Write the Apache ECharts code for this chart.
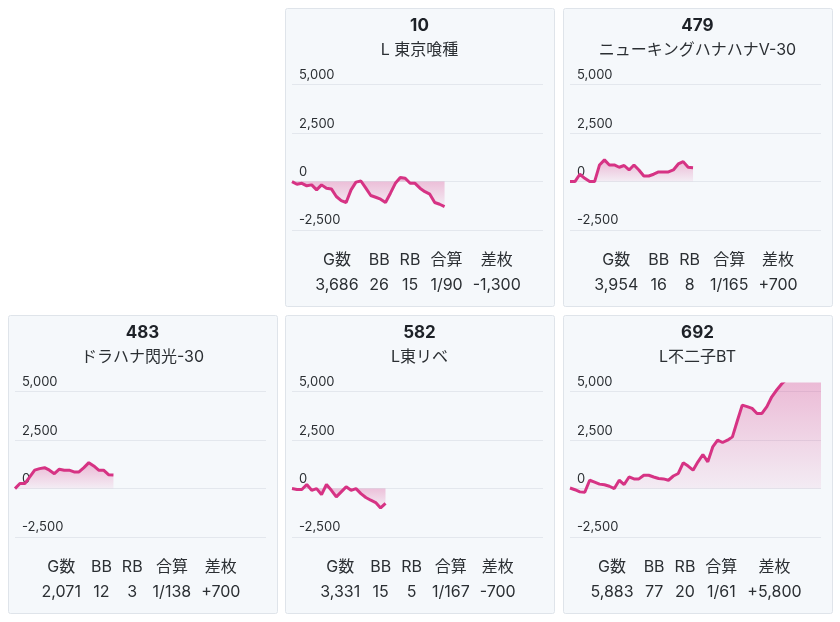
<!DOCTYPE html>
<html>
<head>
<meta charset="utf-8">
<script src="https://cdn.jsdelivr.net/npm/echarts@6/dist/echarts.min.js"></script>
<style>
html,body{margin:0;padding:0;background:#ffffff;}
#c{width:840px;height:622px;}
</style>
</head>
<body>
<div id="c"></div>
<script>
// ---------- data ----------
const machineNos = ['10', '479', '483', '582', '692'];
const machineNames = ['L 東京喰種', 'ニューキングハナハナV-30', 'ドラハナ閃光-30', 'L東リベ', 'L不二子BT'];
const statHeaders = ['G数', 'BB', 'RB', '合算', '差枚'];
const gameCounts = [3686, 3954, 2071, 3331, 5883];
const bbCounts = [26, 16, 12, 15, 77];
const rbCounts = [15, 8, 3, 5, 20];
const combinedRates = ['1/90', '1/165', '1/138', '1/167', '1/61'];
const coinDiffs = [-1300, 700, 700, -700, 5800];

const trend10 = [0, -140, -90, -220, -170, -430, -170, -340, -380, -770, -980, -1080, -430, -30, 30, -340,
  -720, -810, -910, -1080, -600, -90, 210, 170, -90, -90, -340, -520, -650, -1080, -1170, -1290];
const trend479 = [0, 0, 380, 170, 0, 0, 860, 1120, 860, 860, 740, 830, 600, 860, 600, 290,
  290, 380, 500, 500, 500, 600, 910, 1030, 740, 720];
const trend483 = [0, 260, 260, 600, 950, 1030, 1080, 950, 770, 1000, 950, 950, 860, 860, 1080, 1340,
  1170, 950, 950, 720, 700];
const trend582 = [0, -50, -50, 210, -90, 0, -310, 210, -90, -430, -170, 90, -90, 0, -260, -460,
  -600, -720, -1000, -760];
const trend692 = [30, -60, -170, -190, 430, 330, 230, 200, 120, 0, 430, 210, 600, 500, 500, 690,
  690, 600, 520, 500, 430, 650, 780, 1330, 1160, 950, 1380, 1760, 1380, 2150, 2500, 2380,
  2500, 2670, 3500, 4310, 4230, 4140, 3880, 3880, 4230, 4740, 5090, 5400, 5650, 5700, 5900, 5800,
  5750, 5900, 5850, 5800];
const trends = [trend10, trend479, trend483, trend582, trend692];

const sampleSlots = Array.from({ length: 52 }, (_, i) => String(i));
const yMin = -2500;
const yMax = 5400;
const yStep = 2500;

// ---------- layout / style ----------
const FONT = "Inter, 'Noto Sans CJK JP', sans-serif";
const LINE_COLOR = '#d63384';
const colX = [8, 285, 563];
const rowY = [8, 315];
const CARD_W = 269, CARD_H = 298;
const slots = [[1, 0], [2, 0], [0, 1], [1, 1], [2, 1]];

const measureCtx = document.createElement('canvas').getContext('2d');
function textWidth(t, font) { measureCtx.font = font; return measureCtx.measureText(t).width; }
const fmt = n => n.toLocaleString('en-US');
const fmtDiff = n => (n > 0 ? '+' : '') + n.toLocaleString('en-US');

const grids = [], xAxes = [], yAxes = [], series = [], graphics = [];

machineNos.forEach((no, i) => {
  const cx = colX[slots[i][0]], cy = rowY[slots[i][1]];
  graphics.push({
    type: 'rect', z: -10, silent: true,
    shape: { x: cx + 0.5, y: cy + 0.5, width: CARD_W, height: CARD_H, r: 2 },
    style: { fill: '#f5f8fb', stroke: '#dfe4ea', lineWidth: 1 }
  });
  graphics.push({
    type: 'text', x: cx + CARD_W / 2, y: cy + 18, silent: true,
    style: { text: no, fill: '#1d2127', font: 'bold 17px ' + FONT, align: 'center', verticalAlign: 'middle' }
  });
  graphics.push({
    type: 'text', x: cx + CARD_W / 2, y: cy + 42.5, silent: true,
    style: { text: machineNames[i], fill: '#2b2f33', font: '16px ' + FONT, align: 'center', verticalAlign: 'middle' }
  });

  // stats table
  const vals = [fmt(gameCounts[i]), String(bbCounts[i]), String(rbCounts[i]), combinedRates[i], fmtDiff(coinDiffs[i])];
  const f = '16px ' + FONT;
  const pad = 5;
  const widths = statHeaders.map((h, k) => Math.max(textWidth(h, f), textWidth(vals[k], f)) + 2 * pad);
  const total = widths.reduce((a, b) => a + b, 0);
  let x0 = cx + CARD_W / 2 - total / 2 - 1.5;
  statHeaders.forEach((h, k) => {
    const mid = x0 + widths[k] / 2;
    graphics.push({
      type: 'text', x: mid, y: cy + 252, silent: true,
      style: { text: h, fill: '#2b2f33', font: f, align: 'center', verticalAlign: 'middle' }
    });
    graphics.push({
      type: 'text', x: mid, y: cy + 277, silent: true,
      style: { text: vals[k], fill: '#2b2f33', font: f, align: 'center', verticalAlign: 'middle' }
    });
    x0 += widths[k];
  });

  grids.push({ left: cx + 7, top: cy + 69, width: 251, height: 153, containLabel: false });
  xAxes.push({
    gridIndex: i, type: 'category', data: sampleSlots, boundaryGap: false, show: false
  });
  yAxes.push({
    gridIndex: i, type: 'value', min: yMin, max: yMax, interval: yStep,
    axisLine: { show: false }, axisTick: { show: false },
    axisLabel: {
      inside: true, showMaxLabel: false, verticalAlign: 'bottom', margin: 7,
      padding: [0, 0, 3, 0], fontSize: 13, color: '#2b2f33', fontFamily: FONT,
      formatter: v => fmt(v)
    },
    splitLine: { show: true, showMaxLine: false, lineStyle: { color: '#e3e7ed', width: 1 } }
  });
  series.push({
    type: 'line', xAxisIndex: i, yAxisIndex: i, data: trends[i],
    showSymbol: false, symbol: 'none', silent: true,
    lineStyle: { color: LINE_COLOR, width: 3 },
    itemStyle: { color: LINE_COLOR },
    areaStyle: {
      color: new echarts.graphic.LinearGradient(0, 0, 0, 1, [
        { offset: 0, color: 'rgba(214,51,132,0.47)' },
        { offset: 1, color: 'rgba(214,51,132,0.08)' }
      ])
    }
  });
});

const chart = echarts.init(document.getElementById('c'), null, { renderer: 'canvas' });
chart.setOption({
  animation: false,
  backgroundColor: '#ffffff',
  grid: grids,
  xAxis: xAxes,
  yAxis: yAxes,
  series: series,
  graphic: graphics
});
</script>
</body>
</html>
